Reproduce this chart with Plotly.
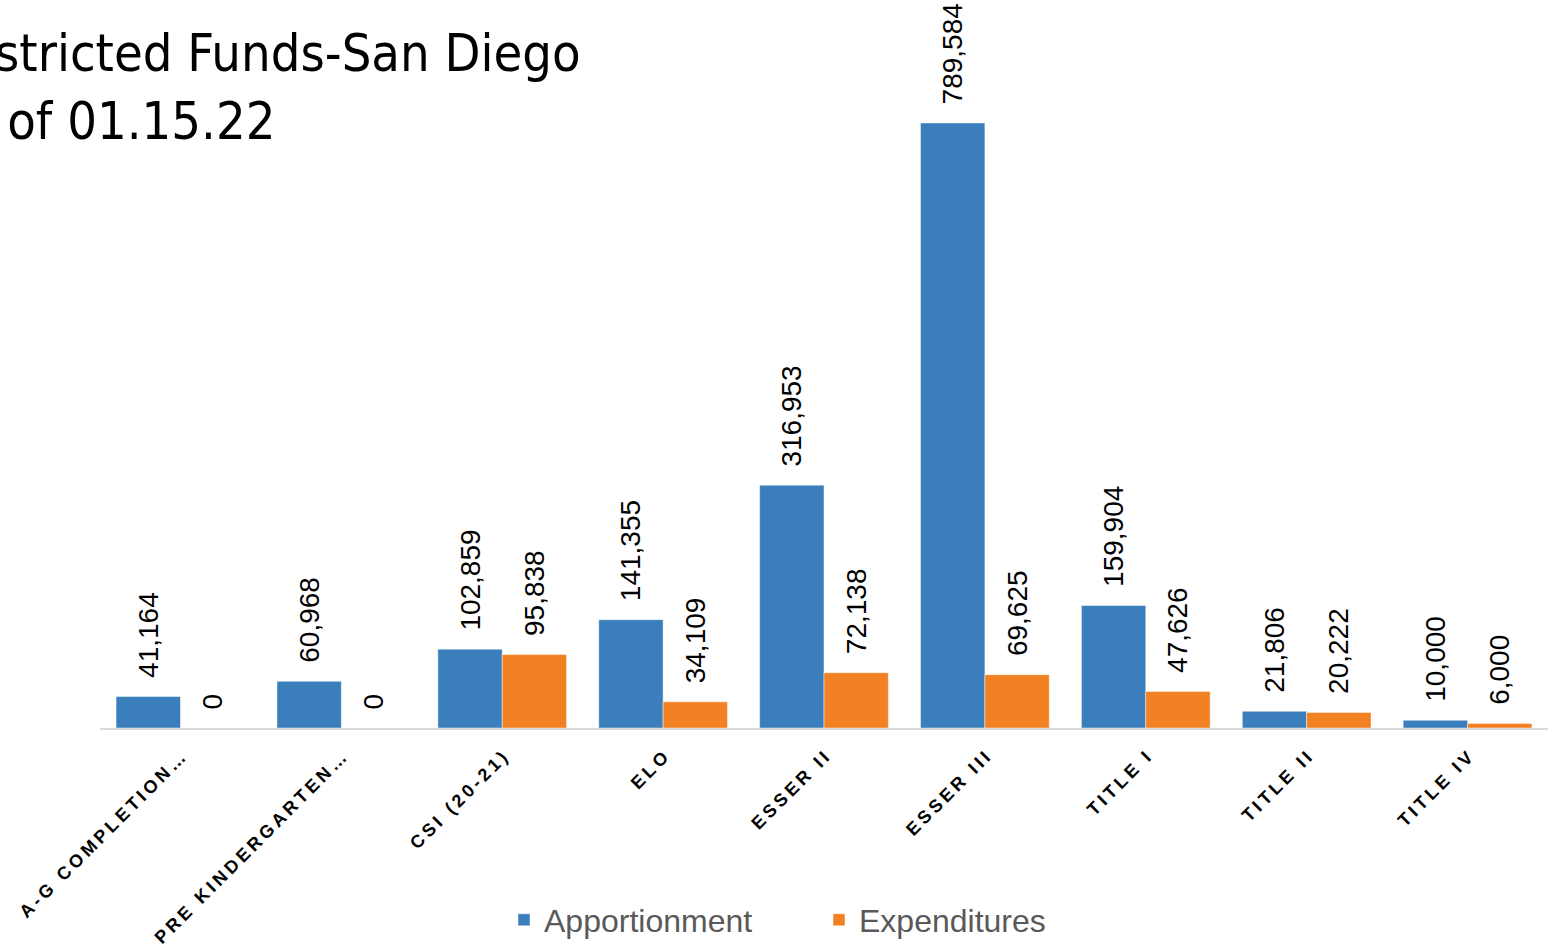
import plotly.graph_objects as go

categories = ["A-G COMPLETION…", "PRE KINDERGARTEN…", "CSI (20-21)", "ELO", "ESSER II",
              "ESSER III", "TITLE I", "TITLE II", "TITLE IV"]
apportionment = [41164, 60968, 102859, 141355, 316953, 789584, 159904, 21806, 10000]
expenditures = [0, 0, 95838, 34109, 72138, 69625, 47626, 20222, 6000]
title_text = "Restricted Funds-San Diego<br>As of 01.15.22"

SP = "\u2009"


def spaced(s):
    return SP.join(list(s))


tick_text = [spaced(c) for c in categories]

BLUE = "#3A7FBB"
ORANGE = "#F28123"

fig = go.Figure()
for name, vals, col in [("Apportionment", apportionment, BLUE), ("Expenditures", expenditures, ORANGE)]:
    fig.add_trace(go.Bar(
        name=name, x=categories, y=vals,
        marker=dict(color=col, line=dict(color="rgba(255,255,255,0.45)", width=1)),
        texttemplate="\u00a0\u00a0%{y:,.0f}",
        textposition="outside", textangle=-90, constraintext="none", cliponaxis=False,
        textfont=dict(family="Liberation Sans, Arial", size=28, color="#000000"),
    ))

fig.update_layout(
    width=1548, height=949,
    margin=dict(l=100, r=0, t=115, b=221, autoexpand=False),
    plot_bgcolor="white", paper_bgcolor="white",
    barmode="group", bargap=0.2, bargroupgap=0,
    showlegend=True,
    legend=dict(orientation="h", xref="container", x=504 / 1548, xanchor="left",
                yref="container", y=1 - 920 / 949, yanchor="middle",
                font=dict(family="Liberation Sans, Arial", size=32, color="#595959"),
                entrywidth=270, itemwidth=30),
    xaxis=dict(tickmode="array", tickvals=categories, ticktext=tick_text, tickangle=-45,
               showline=True, linecolor="#D9D9D9", linewidth=2, ticks="", automargin=False,
               ticklabelstandoff=10,
               tickfont=dict(family="Liberation Sans, Arial", size=18, color="#000000", weight="bold")),
    yaxis=dict(range=[0, 800000], visible=False, showgrid=False, automargin=False),
)

fig.add_annotation(
    text=title_text, xref="paper", yref="paper",
    x=(-66 - 100) / 1448, y=(728 - 21) / 613, xanchor="left", yanchor="top",
    align="left", showarrow=False,
    font=dict(family="DejaVu Sans Condensed, Liberation Sans Narrow, DejaVu Sans", size=52, color="#000000"),
)

fig.write_html("out.html", config={"displayModeBar": False},
               post_script="document.body.style.margin='0';document.body.style.overflow='hidden';")
